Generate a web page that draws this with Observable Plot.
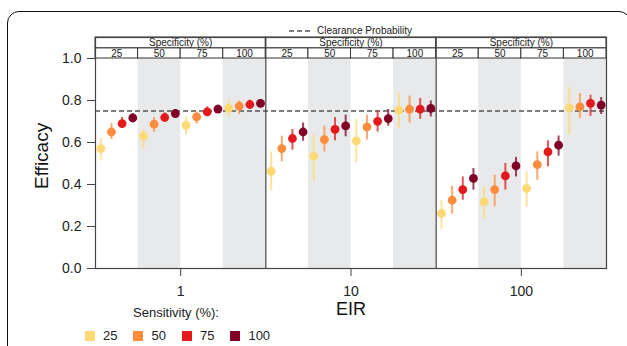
<!DOCTYPE html>
<html><head><meta charset="utf-8">
<script src="https://cdn.jsdelivr.net/npm/d3@7"></script>
<script src="https://cdn.jsdelivr.net/npm/@observablehq/plot@0.6"></script>
<style>
body{margin:0;background:#fff;font-family:"Liberation Sans",Arial,sans-serif;}
#wrap{position:relative;width:627px;height:346px;overflow:hidden;}
#box{position:absolute;left:7px;top:11px;width:624px;height:420px;border:1.5px solid #111;border-radius:12px;box-sizing:border-box;}
#chart{position:absolute;left:0;top:0;}
#toplegend{position:absolute;left:289px;top:25px;font-size:10px;color:#222;display:flex;align-items:center;white-space:nowrap;}
#botlegend{position:absolute;left:0;top:305px;width:352px;font-size:13px;color:#222;}
#botlegend .title{position:absolute;left:0;width:352px;text-align:center;top:0;}
#botlegend .row{position:absolute;left:85px;top:23px;display:flex;align-items:center;white-space:nowrap;}
#botlegend .sw{width:10px;height:10px;display:inline-block;margin-right:8px;}
#botlegend .lab{margin-right:16px;}
</style>
</head><body>
<div id="wrap">
  <div id="box"></div>
  <div id="chart"></div>
  <div id="toplegend"></div>
  <div id="botlegend"></div>
</div>
<script>
// Categories
const eirLevels = ["1", "10", "100"];
const specificity = [25, 50, 75, 100];
const sensitivity = [25, 50, 75, 100];
const sensColors = ["#FED976", "#FD8D3C", "#E31A1C", "#800026"];
const clearanceProbability = 0.75;
const yTicks = [0, 0.2, 0.4, 0.6, 0.8, 1.0];

// Efficacy (ordered specificity 25,50,75,100; within each, sensitivity 25,50,75,100)
const eir1_mid = [0.571,0.650,0.690,0.717, 0.630,0.687,0.719,0.738, 0.682,0.722,0.746,0.759, 0.763,0.773,0.781,0.786];
const eir1_lo  = [0.512,0.614,0.667,0.693, 0.568,0.648,0.698,0.719, 0.635,0.687,0.725,0.741, 0.722,0.733,0.757,0.767];
const eir1_hi  = [0.619,0.690,0.719,0.738, 0.662,0.719,0.741,0.757, 0.722,0.746,0.770,0.778, 0.805,0.798,0.801,0.805];

const eir10_mid = [0.463,0.571,0.619,0.650, 0.535,0.614,0.662,0.679, 0.608,0.674,0.701,0.714, 0.754,0.759,0.759,0.762];
const eir10_lo  = [0.370,0.508,0.563,0.606, 0.417,0.555,0.608,0.627, 0.505,0.611,0.650,0.678, 0.667,0.693,0.710,0.722];
const eir10_hi  = [0.555,0.630,0.662,0.693, 0.635,0.678,0.719,0.730, 0.710,0.730,0.749,0.757, 0.836,0.821,0.810,0.798];

const eir100_mid = [0.262,0.325,0.376,0.429, 0.317,0.376,0.441,0.489, 0.381,0.495,0.555,0.587, 0.765,0.770,0.786,0.778];
const eir100_lo  = [0.187,0.259,0.325,0.373, 0.235,0.293,0.373,0.436, 0.290,0.420,0.484,0.535, 0.635,0.714,0.725,0.733];
const eir100_hi  = [0.325,0.392,0.436,0.476, 0.392,0.444,0.500,0.529, 0.460,0.555,0.608,0.631, 0.860,0.833,0.825,0.814];

const series = [
  {mid: eir1_mid, lo: eir1_lo, hi: eir1_hi},
  {mid: eir10_mid, lo: eir10_lo, hi: eir10_hi},
  {mid: eir100_mid, lo: eir100_lo, hi: eir100_hi}
];

// layout constants (scale units)
const nS = specificity.length, nK = sensitivity.length;
const panelW = nS * nK;
const stripMid = 1.048, stripTop = 1.1;

const rows = [];
series.forEach((ser, e) => {
  specificity.forEach((sp, s) => {
    sensitivity.forEach((se, k) => {
      const i = s * nK + k;
      rows.push({eir: eirLevels[e], spec: sp, sens: String(se),
        x: e * panelW + s * nK + k + 0.5, y: ser.mid[i], lo: ser.lo[i], hi: ser.hi[i]});
    });
  });
});

const cells = [];
eirLevels.forEach((ev, e) => specificity.forEach((sp, s) => {
  cells.push({e, s, spec: sp, x1: e * panelW + s * nK, x2: e * panelW + (s + 1) * nK});
}));
const panels = eirLevels.map((ev, e) => ({eir: ev, x1: e * panelW, x2: (e + 1) * panelW, xc: (e + 0.5) * panelW}));

const colorScale = {domain: sensitivity.map(String), range: sensColors};

const plot = Plot.plot({
  width: 627, height: 346,
  marginLeft: 95, marginRight: 21, marginTop: 37, marginBottom: 78,
  style: {fontFamily: '"Liberation Sans", Arial, sans-serif', background: "transparent", color: "#222"},
  x: {domain: [0, panelW * eirLevels.length], axis: null},
  y: {domain: [0, stripTop], axis: null},
  color: colorScale,
  marks: [
    // shaded specificity columns
    Plot.rect(cells.filter(c => c.s % 2 === 1), {x1: "x1", x2: "x2", y1: 0, y2: 1.0, fill: "#E8E9EB"}),
    // clearance probability
    Plot.ruleY([clearanceProbability], {stroke: "#555", strokeDasharray: "5,3", strokeWidth: 1.3}),
    // error bars
    Plot.ruleX(rows, {x: "x", y1: "lo", y2: "hi", stroke: "sens", strokeWidth: 2, strokeOpacity: 0.75}),
    // points
    Plot.dot(rows, {x: "x", y: "y", fill: "sens", r: 4.4}),
    // strips
    Plot.rect(panels, {x1: "x1", x2: "x2", y1: stripMid, y2: stripTop, fill: "white", stroke: "#333", strokeWidth: 1}),
    Plot.rect(cells, {x1: "x1", x2: "x2", y1: 1.0, y2: stripMid, fill: "white", stroke: "#333", strokeWidth: 1}),
    Plot.text(panels, {x: "xc", y: (stripMid + stripTop) / 2, text: () => "Specificity (%)", fontSize: 10, fill: "#222"}),
    Plot.text(cells, {x: d => (d.x1 + d.x2) / 2, y: (1.0 + stripMid) / 2, text: d => String(d.spec), fontSize: 10, fill: "#222"}),
    // panel borders
    Plot.ruleX(panels.slice(1), {x: "x1", y1: 0, y2: stripTop, stroke: "#444", strokeWidth: 1.2}),
    Plot.frame({stroke: "#444", strokeWidth: 1.2}),
    // axes
    Plot.axisY({ticks: yTicks, tickFormat: d3.format(".1f"), tickSize: 8, tickPadding: 6, fontSize: 14, label: null, stroke: "#444"}),
    Plot.axisX({ticks: panels.map(p => p.xc), tickFormat: d => eirLevels[Math.floor(d / panelW)], tickSize: 8, tickPadding: 10, fontSize: 14, label: null, stroke: "#444"}),
    Plot.text(["Efficacy"], {frameAnchor: "left", dx: -54, dy: 36, rotate: -90, fontSize: 19, fill: "#111"}),
    Plot.text(["EIR"], {frameAnchor: "bottom", dy: 46, fontSize: 18, fill: "#111"})
  ]
});
document.getElementById("chart").appendChild(plot);

// top legend
const tl = document.getElementById("toplegend");
tl.innerHTML = `<svg width="24" height="6" style="margin-right:4px"><line x1="0" y1="3" x2="22" y2="3" stroke="#555" stroke-width="1.3" stroke-dasharray="5,3"/></svg><span>Clearance Probability</span>`;

// bottom legend
const bl = document.getElementById("botlegend");
bl.innerHTML = `<div class="title">Sensitivity (%):</div><div class="row">` +
  sensitivity.map((s, i) => `<span class="sw" style="background:${sensColors[i]}"></span><span class="lab">${s}</span>`).join("") +
  `</div>`;
</script>
</body></html>
